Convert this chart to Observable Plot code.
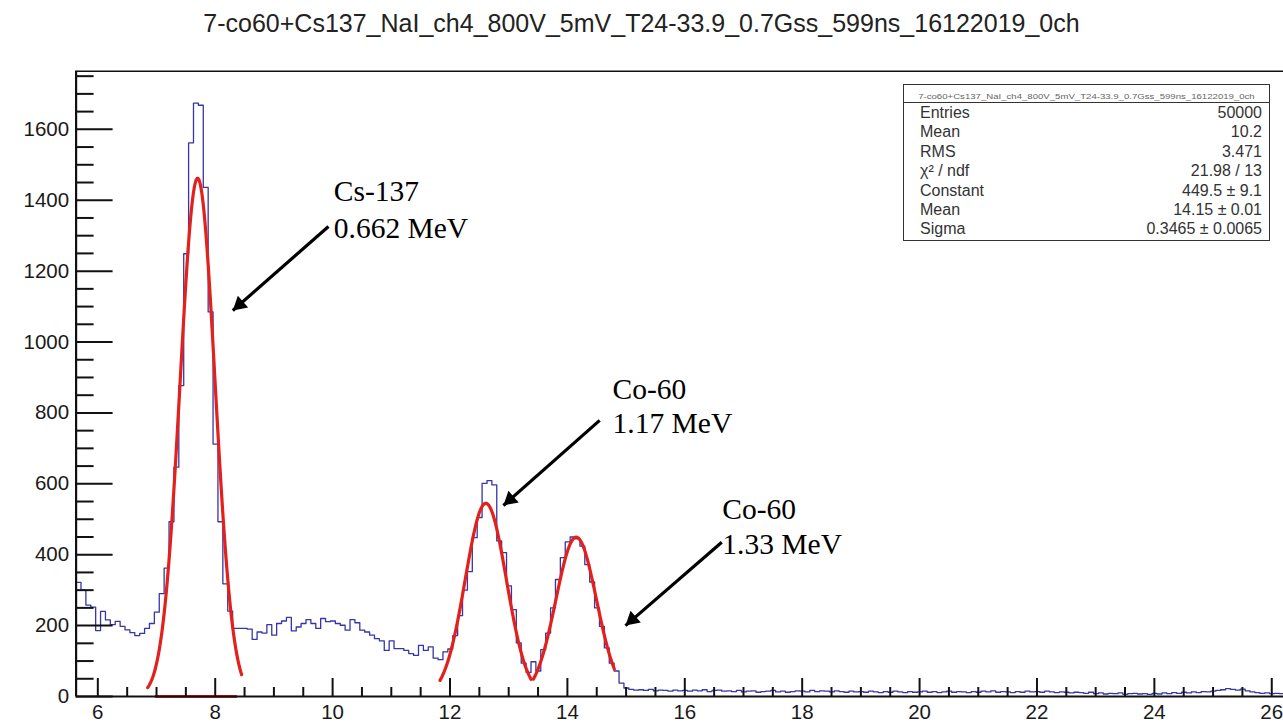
<!DOCTYPE html>
<html>
<head>
<meta charset="utf-8">
<script src="https://cdn.jsdelivr.net/npm/d3@7"></script>
<script src="https://cdn.jsdelivr.net/npm/@observablehq/plot@0.6"></script>
<style>
  body { margin: 0; background: #fff; }
  #wrap { position: relative; width: 1283px; height: 728px; overflow: hidden; background: #fff;
          font-family: "Liberation Sans", Arial, sans-serif; }
  #title { height: 40px; box-sizing: border-box; padding-top: 11px; text-align: center;
           font-size: 25px; line-height: 25px; color: #222; white-space: nowrap; }
  #stats { position: absolute; left: 903px; top: 84px; width: 367px; height: 157px; box-sizing: border-box;
           border: 1.5px solid #333; background: #fff; color: #333; }
  #stats .hd { height: 17px; border-bottom: 1.5px solid #333; line-height: 17px;
               text-align: center; white-space: nowrap; overflow: hidden; color: #666; }
  #stats .hd span { display: inline-block; font-size: 7.5px; transform: scaleX(1.28); }
  #stats .row { display: flex; justify-content: space-between; height: 19.4px; line-height: 19.4px;
                font-size: 16px; padding: 0 7px 0 16px; }
</style>
</head>
<body>
<div id="wrap">
  <div id="title"></div>
  <div id="chart"></div>
  <div id="stats"></div>
</div>
<script>
// ---------------- data ----------------
const titleText = "7-co60+Cs137_NaI_ch4_800V_5mV_T24-33.9_0.7Gss_599ns_16122019_0ch";

// histogram binning
const binStart = 5.63;
const binWidth = 1 / 12;

// bin contents, left to right
const countsLow = [322, 300, 258, 252, 186, 240, 216, 203, 212, 198, 188, 180, 172, 178, 192, 206, 238,
  290, 362, 493, 647, 877, 1249, 1562, 1674, 1668, 1436, 1085, 712, 493, 318, 241, 192];
const countsMid = [192, 192, 190, 161, 182, 179, 203, 173, 206, 213, 223, 185, 196, 206, 217, 206, 192,
  220, 211, 213, 206, 201, 187, 217, 208, 187, 182, 173, 163, 157, 130, 157, 135, 135, 130, 121, 116,
  144, 130, 140, 108, 104, 126, 134];
const countsCo60 = [172, 228, 300, 352, 448, 505, 601, 609, 597, 439, 406, 312, 245, 151, 94, 68, 98, 72,
  132, 179, 250, 330, 392, 436, 450, 445, 424, 372, 323, 250, 198, 137, 94, 72, 38, 24];
const countsTail = [20, 18, 19, 17, 20, 16, 18, 17, 15, 18, 16,
  17, 15, 18, 16, 19, 14, 17, 18, 15, 16, 14, 17,
  13, 15, 16, 12, 14, 15, 17, 13, 15, 12, 14, 16,
  15, 13, 17, 14, 16, 15, 13, 16, 14, 12, 15, 13,
  14, 12, 15, 13, 11, 14, 12, 15, 13, 11, 14, 12,
  13, 15, 12, 14, 11, 13, 15, 12, 14, 13, 11, 14,
  12, 15, 13, 16, 12, 14, 13, 11, 14, 12, 15, 13,
  14, 12, 15, 13, 11, 13, 12, 10, 12, 11, 9, 12,
  8, 10, 7, 9, 8, 10, 6, 8, 9, 7, 8, 6,
  9, 7, 10, 8, 11, 9, 12, 10, 13, 11, 14, 13,
  15, 17, 19, 22, 20, 18, 21, 16, 13, 11, 9, 10,
  8, 9, 8];

// Gaussian fits (red curves): constant, mean, sigma, fit range
const fitConstant = [1462, 545, 449.5];
const fitMean = [7.70, 12.61, 14.15];
const fitSigma = [0.298, 0.35, 0.3465];
const fitFrom = [6.85, 11.83, 13.42];
const fitTo = [8.45, 13.38, 14.80];
const redBaseline = [6.98, 8.38];

// axis
const xDomain = [5.63, 26.2];
const yDomain = [0, 1764];
const xTicks = [6, 8, 10, 12, 14, 16, 18, 20, 22, 24, 26];
const yTicks = [0, 200, 400, 600, 800, 1000, 1200, 1400, 1600];

// annotations
const labelText = ["Cs-137", "0.662 MeV", "Co-60", "1.17 MeV", "Co-60", "1.33 MeV"];
const labelX = [10.02, 10.02, 14.77, 14.77, 16.64, 16.64];
const labelY = [1398, 1294, 840, 744, 500, 401];
const arrowX1 = [9.93, 14.55, 16.63];
const arrowY1 = [1326, 779, 435];
const arrowX2 = [8.30, 12.91, 14.99];
const arrowY2 = [1089, 539, 200];

// stats box
const statLabels = ["Entries", "Mean", "RMS", "\u03c7\u00b2 / ndf", "Constant", "Mean", "Sigma"];
const statValues = ["50000", "10.2", "3.471", "21.98 / 13", "449.5 \u00b1 9.1", "14.15 \u00b1 0.01", "0.3465 \u00b1 0.0065"];

// ---------------- build ----------------
const counts = [...countsLow, ...countsMid, ...countsCo60, ...countsTail];
const histPts = counts.map((c, i) => ({x: binStart + i * binWidth, y: c}));
histPts.push({x: Math.min(binStart + counts.length * binWidth, xDomain[1]), y: counts[counts.length - 1]});

const fitPts = [];
fitConstant.forEach((A, f) => {
  const n = 160;
  for (let j = 0; j <= n; j++) {
    const x = fitFrom[f] + (fitTo[f] - fitFrom[f]) * j / n;
    fitPts.push({fit: f, x, y: A * Math.exp(-0.5 * ((x - fitMean[f]) / fitSigma[f]) ** 2)});
  }
});

const labels = labelText.map((t, i) => ({t, x: labelX[i], y: labelY[i]}));
const arrows = arrowX1.map((x1, i) => ({x1, y1: arrowY1[i], x2: arrowX2[i], y2: arrowY2[i]}));

const W = 1283, H = 688, mt = 30.7, mb = 32, ml = 75.6, mr = 0;
const kx = (W - ml - mr) / (xDomain[1] - xDomain[0]);
const ky = (H - mt - mb) / (yDomain[1] - yDomain[0]);
// arrow head direction in screen space (all three arrows share it)
const sdx = (arrows[0].x2 - arrows[0].x1) * kx, sdy = -(arrows[0].y2 - arrows[0].y1) * ky;
const slen = Math.hypot(sdx, sdy);
const ux = sdx / slen, uy = sdy / slen;
const headRot = Math.atan2(ux, -uy) * 180 / Math.PI;
const headR = 5.8;
const tipDist = 2 * Math.sqrt((Math.PI * headR * headR) / (Math.sqrt(3) * 3));

const xMinor = d3.range(6, 26.1, 0.5).filter(v => !xTicks.includes(v));
const yMinor = d3.range(50, 1764, 50).filter(v => v % 200 !== 0);

const red = "#e3201c";
const blue = "#3636a6";

const plot = Plot.plot({
  width: W, height: H,
  marginTop: mt, marginBottom: mb, marginLeft: ml, marginRight: mr,
  x: {domain: xDomain},
  y: {domain: yDomain},
  style: {fontFamily: "'Liberation Sans', Arial, sans-serif", color: "#1a1a1a", background: "#fff", overflow: "hidden"},
  marks: [
    // histogram outline
    Plot.line(histPts, {x: "x", y: "y", curve: "step-after", stroke: blue, strokeWidth: 1.3}),
    // fits
    Plot.ruleY([0], {x1: redBaseline[0], x2: redBaseline[1], stroke: red, strokeWidth: 3}),
    Plot.line(fitPts, {x: "x", y: "y", z: "fit", stroke: red, strokeWidth: 3.2}),
    // frame (the right side lies beyond the picture) and axes
    Plot.ruleY([yDomain[1]], {stroke: "#111", strokeWidth: 1.4}),
    Plot.ruleX([xDomain[0]], {stroke: "#111", strokeWidth: 2.2}),
    Plot.ruleY([0], {stroke: "#111", strokeWidth: 2.2}),
    Plot.axisY(yTicks, {tickSize: -37, tickFormat: () => "", label: null, stroke: "#111", strokeWidth: 2}),
    Plot.axisY(yMinor, {tickSize: -18, tickFormat: () => "", label: null, stroke: "#111", strokeWidth: 2}),
    Plot.axisY(yTicks, {tickSize: 0, tickPadding: 7, tickFormat: d3.format("d"), label: null, fontSize: 20.5, fill: "#1a1a1a"}),
    Plot.axisX(xTicks, {tickSize: -18, tickFormat: () => "", label: null, stroke: "#111", strokeWidth: 2}),
    Plot.axisX(xMinor, {tickSize: -9, tickFormat: () => "", label: null, stroke: "#111", strokeWidth: 2}),
    Plot.axisX(xTicks, {tickSize: 0, tickPadding: 8, tickFormat: d3.format("d"), label: null, fontSize: 20.5, fill: "#1a1a1a"}),
    // annotations
    Plot.link(arrows, {x1: "x1", y1: "y1", x2: "x2", y2: "y2", stroke: "#000", strokeWidth: 3.2}),
    Plot.dot(arrows, {x: "x2", y: "y2", symbol: "triangle", r: headR, fill: "#000", stroke: "none",
      rotate: headRot, dx: -ux * tipDist, dy: -uy * tipDist}),
    Plot.text(labels, {x: "x", y: "y", text: "t", textAnchor: "start", lineAnchor: "bottom",
      fontFamily: "'Liberation Serif', 'Times New Roman', serif", fontSize: 29.5, fill: "#000"})
  ]
});
document.getElementById("chart").appendChild(plot);
document.getElementById("title").textContent = titleText;

const stats = document.getElementById("stats");
const hd = document.createElement("div");
hd.className = "hd";
const hs = document.createElement("span");
hs.textContent = titleText;
hd.appendChild(hs);
stats.appendChild(hd);
statLabels.forEach((l, i) => {
  const row = document.createElement("div");
  row.className = "row";
  const a = document.createElement("span"); a.textContent = l;
  const b = document.createElement("span"); b.textContent = statValues[i];
  row.appendChild(a); row.appendChild(b);
  stats.appendChild(row);
});
</script>
</body>
</html>
